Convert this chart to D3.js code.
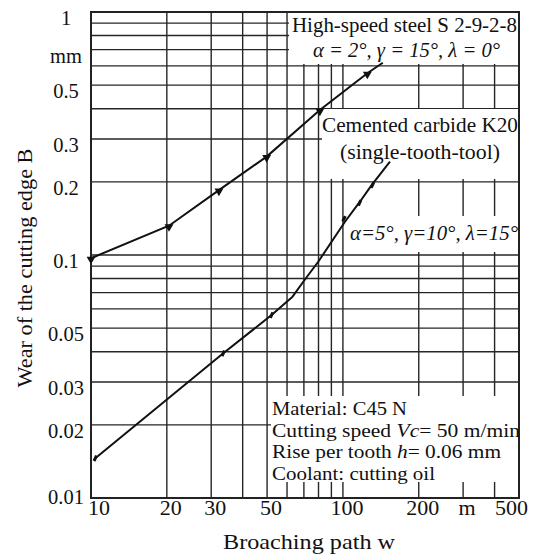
<!DOCTYPE html>
<html>
<head>
<meta charset="utf-8">
<script src="https://cdn.jsdelivr.net/npm/d3@7"></script>
<style>
  body { margin: 0; background: #fff; }
  svg { display: block; }
  text { font-family: "Liberation Serif", "DejaVu Serif", serif; fill: #111; }
</style>
</head>
<body>
<svg id="chart" width="541" height="555"></svg>
<script>
// ---------- data ----------
const xTickValues = [10, 20, 30, 50, 100, 200, 300, 500];
const xTickLabels = ["10", "20", "30", "50", "100", "200", "m", "500"];
const yTickValues = [1, 0.7, 0.5, 0.3, 0.2, 0.1, 0.05, 0.03, 0.02, 0.01];
const yTickLabels = ["1", "mm", "0.5", "0.3", "0.2", "0.1", "0.05", "0.03", "0.02", "0.01"];
const xGrid = [10, 20, 30, 40, 50, 60, 70, 80, 90, 100, 200, 300, 400, 500];
const yGrid = [0.01, 0.02, 0.03, 0.04, 0.05, 0.06, 0.07, 0.08, 0.09,
               0.1, 0.2, 0.3, 0.4, 0.5, 0.6, 0.7, 0.8, 0.9, 1];

// High-speed steel (measured points, triangle markers)
const hssW = [10, 20.4, 32.2, 49.8, 81, 125];
const hssB = [0.097, 0.132, 0.185, 0.254, 0.395, 0.56];
// continuation of the HSS line beyond the last marker
const hssTailW = [144];
const hssTailB = [0.618];

// Cemented carbide curve (line vertices) and its measured points
const carbLineW = [10.4, 33.5, 52.1, 63.1, 69.6, 79.8, 101.9, 116.8, 130, 153.7];
const carbLineB = [0.01457, 0.0394, 0.0566, 0.0674, 0.0776, 0.0938, 0.137, 0.1657, 0.194, 0.242];
const carbW = [10.4, 33.5, 52.1, 101, 116.5, 131];
const carbB = [0.01457, 0.0394, 0.0566, 0.141, 0.164, 0.194];

// ---------- layout ----------
const svg = d3.select("#chart");
const L = 91, R = 519, T = 12, B = 498;
const x = d3.scaleLog().domain([10, 500]).range([L, R]);
const y = d3.scaleLog().domain([0.01, 1]).range([B, T]);

// grid
const g = svg.append("g");
g.selectAll("line.vx").data(xGrid).join("line")
  .attr("x1", d => x(d)).attr("x2", d => x(d))
  .attr("y1", T).attr("y2", B)
  .attr("stroke", "#262626").attr("stroke-width", 1.4);
g.selectAll("line.hy").data(yGrid).join("line")
  .attr("x1", L).attr("x2", R)
  .attr("y1", d => y(d)).attr("y2", d => y(d))
  .attr("stroke", "#262626").attr("stroke-width", 1.4);

// frame
svg.append("rect").attr("x", L).attr("y", T).attr("width", R - L).attr("height", B - T)
  .attr("fill", "none").attr("stroke", "#222").attr("stroke-width", 2);

// white annotation boxes
const boxes = [
  [289, 13, 230, 51],
  [322, 109, 197, 70],
  [347, 216, 172, 36],
  [271, 396, 248, 86]
];
svg.selectAll("rect.box").data(boxes).join("rect")
  .attr("x", d => d[0]).attr("y", d => d[1]).attr("width", d => d[2]).attr("height", d => d[3])
  .attr("fill", "#fff");

// re-draw right border over boxes
svg.append("line").attr("x1", R).attr("x2", R).attr("y1", T).attr("y2", B)
  .attr("stroke", "#222").attr("stroke-width", 2);

// series lines
const line = d3.line().x(d => x(d[0])).y(d => y(d[1]));
const hssPts = hssW.map((w, i) => [w, hssB[i]]).concat(hssTailW.map((w, i) => [w, hssTailB[i]]));
svg.append("path").attr("d", line(hssPts)).attr("fill", "none")
  .attr("stroke", "#111").attr("stroke-width", 2);
const carbPts = carbLineW.map((w, i) => [w, carbLineB[i]]);
svg.append("path").attr("d", line(carbPts)).attr("fill", "none")
  .attr("stroke", "#111").attr("stroke-width", 2).attr("stroke-linejoin", "round");

// markers
const tri = d3.symbol().type(d3.symbolTriangle).size(34);
svg.selectAll("path.hss").data(hssW).join("path")
  .attr("d", tri)
  .attr("transform", (d, i) => `translate(${x(d)},${y(hssB[i]) + 1}) rotate(180)`)
  .attr("fill", "#111");
svg.selectAll("rect.carb").data(carbW).join("rect")
  .attr("x", -1.5).attr("y", -3).attr("width", 3).attr("height", 6)
  .attr("transform", (d, i) => `translate(${x(d)},${y(carbB[i])}) rotate(25)`)
  .attr("fill", "#111");

// x tick labels
svg.selectAll("text.xt").data(xTickValues).join("text")
  .attr("x", (d, i) => i === 0 ? x(d) - 3 : (i === xTickValues.length - 1 ? x(d) + 9 : x(d) + 4))
  .attr("y", 515)
  .attr("text-anchor", (d, i) => i === 0 ? "start" : (i === xTickValues.length - 1 ? "end" : "middle"))
  .style("font-size", "22px")
  .text((d, i) => xTickLabels[i]);

// y tick labels
svg.selectAll("text.yt").data(yTickValues).join("text")
  .attr("x", 66)
  .attr("y", d => Math.min(y(d) + 6, 497) + 7)
  .attr("text-anchor", "middle")
  .style("font-size", "20.5px")
  .text((d, i) => yTickLabels[i]);

// axis titles
svg.append("text").attr("x", 309).attr("y", 549).attr("text-anchor", "middle")
  .style("font-size", "22px").attr("textLength", 172).attr("lengthAdjust", "spacingAndGlyphs")
  .text("Broaching path w");
svg.append("text").attr("transform", "translate(32,268) rotate(-90)").attr("text-anchor", "middle")
  .style("font-size", "22px").attr("textLength", 239).attr("lengthAdjust", "spacingAndGlyphs")
  .text("Wear of the cutting edge B");

// annotations
function ann(txt, x0, yc, w, italic, size) {
  const t = svg.append("text").attr("x", x0).attr("y", yc + size * 0.34)
    .style("font-size", size + "px")
    .attr("textLength", w).attr("lengthAdjust", "spacingAndGlyphs");
  if (italic) t.style("font-style", "italic");
  t.text(txt);
  return t;
}
ann("High-speed steel S 2-9-2-8", 292, 25, 225, false, 22);
ann("α = 2°, γ = 15°, λ = 0°", 313, 50, 187, true, 22);
ann("Cemented carbide K20", 322, 125, 196, false, 22);
ann("(single-tooth-tool)", 340, 152, 160, false, 22);
ann("α=5°, γ=10°, λ=15°", 350, 233, 168, true, 22);

const matX = 272, fs = "19px";
svg.append("text").attr("x", matX).attr("y", 415).style("font-size", fs)
  .attr("textLength", 135).attr("lengthAdjust", "spacingAndGlyphs").text("Material: C45 N");
const t2 = svg.append("text").attr("x", matX).attr("y", 436.5).style("font-size", fs)
  .attr("textLength", 248).attr("lengthAdjust", "spacingAndGlyphs");
t2.append("tspan").text("Cutting speed ");
t2.append("tspan").style("font-style", "italic").text("Vc");
t2.append("tspan").text("= 50 m/min");
const t3 = svg.append("text").attr("x", matX).attr("y", 458).style("font-size", fs)
  .attr("textLength", 229).attr("lengthAdjust", "spacingAndGlyphs");
t3.append("tspan").text("Rise per tooth ");
t3.append("tspan").style("font-style", "italic").text("h");
t3.append("tspan").text("= 0.06 mm");
svg.append("text").attr("x", matX).attr("y", 479.5).style("font-size", fs)
  .attr("textLength", 163).attr("lengthAdjust", "spacingAndGlyphs").text("Coolant: cutting oil");
</script>
</body>
</html>
